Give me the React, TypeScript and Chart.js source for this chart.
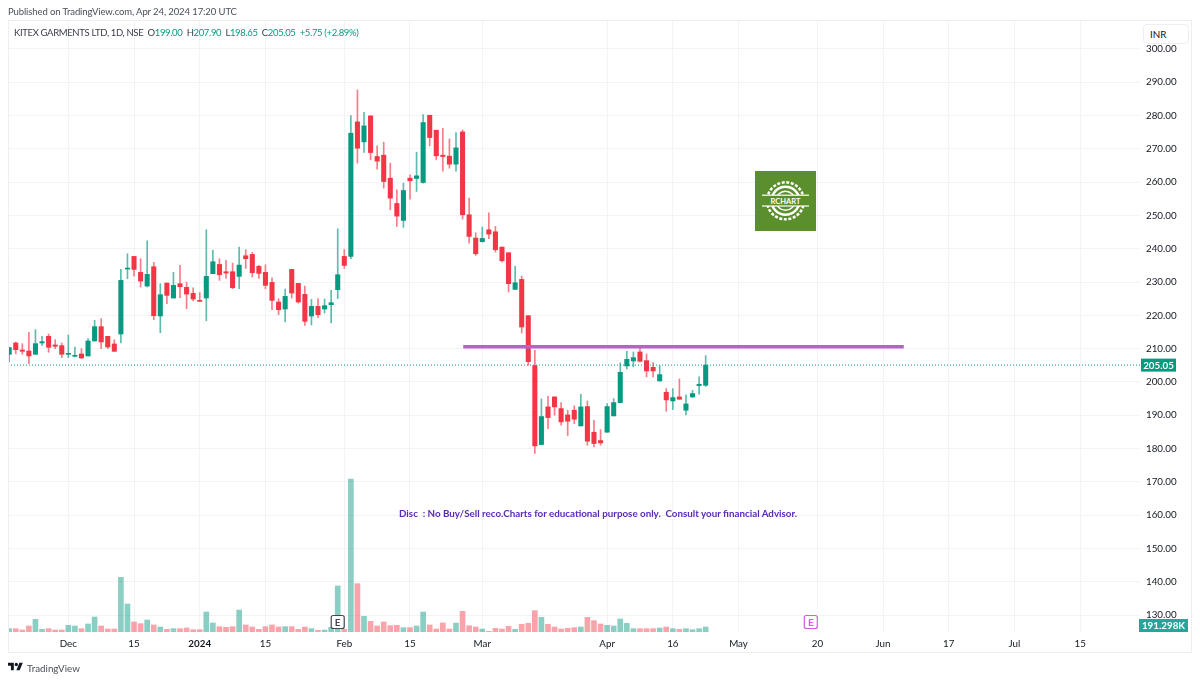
import { useEffect, useRef } from 'react'
import { Chart, registerables } from 'chart.js'

Chart.register(...registerables)

const opens = [
  208.3, 211.7, 209.6, 209.3, 208.3, 211.7, 213.7, 211.1, 210.9, 208.3,
  207.7, 208.4, 207.8, 212.3, 216.6, 213.7, 211.4, 214.4, 233.9, 237.7,
  232.9, 228.8, 234.6, 219.8, 229.7, 225.2, 229.5, 228.4, 226.6, 224.5,
  225.2, 232.5, 235.3, 233.1, 233.1, 231.7, 237.9, 238.3, 234.7, 232.9,
  229.9, 224, 221.9, 233.8, 229.6, 226.3, 219.8, 222.7, 221.9, 223.2,
  227.7, 237.7, 237.7, 278.1, 272.1, 279.9, 267.7, 268.1, 261.2, 253.6,
  248.5, 261.2, 261.1, 259.9, 280.1, 275.6, 268.1, 267.8, 265.4, 275.1,
  250.2, 243.2, 242.1, 245.7, 245.1, 240.5, 238.8, 227.8, 230.8, 219.9,
  204.9, 181.2, 192.5, 195.5, 192, 190.1, 191.5, 186.8, 192.6, 184.9,
  182.4, 184.9, 189.8, 193.8, 204.8, 206.3, 209, 206.4, 204.4, 200.3,
  196.9, 194.3, 195.5, 191.5, 195.5, 198.9, 199,
]
const closes = [
  210.3, 209.7, 209.2, 207.8, 211.5, 212.1, 210.4, 210.7, 208.3, 208.6,
  208, 207.2, 212.3, 216.6, 212, 210.5, 209.2, 230.5, 234.2, 233.8,
  230.3, 232.3, 219.9, 226.2, 226, 229, 228.6, 226.4, 224.9, 224.2,
  231.7, 236.1, 232.2, 232.7, 228.3, 235.1, 237, 232.8, 232.6, 229,
  224.5, 221.7, 225.7, 226.7, 224, 218.2, 222.7, 220.2, 222.9, 223.8,
  232.2, 235, 274.7, 270.2, 276.9, 268.9, 266.3, 260.2, 255.2, 249.8,
  257.5, 260.4, 261.9, 277.9, 273.4, 267.9, 267.7, 265.4, 270.3, 250.2,
  243.7, 238.5, 243.1, 244.4, 239.7, 236.4, 229.5, 229.8, 216.5, 206.1,
  180.8, 189.6, 189.3, 192.5, 188, 188.2, 188.8, 192.5, 182.2, 181.5,
  181.7, 192.6, 193.8, 202.9, 206.8, 207.3, 206.2, 203.3, 203.3, 202.2,
  194.6, 195.3, 194.8, 193.4, 196.5, 199.3, 205.05,
]
const highs = [
  210.5, 212, 211.5, 214.9, 215.7, 213.7, 214.4, 212.7, 211.7, 214.1,
  210.5, 210, 213, 218.5, 219, 213.7, 212.7, 233.8, 238.5, 237.7,
  237, 242.4, 235.9, 229.5, 229.7, 232.9, 235, 230, 228.3, 226.9,
  245.7, 239.5, 237, 236.5, 235.7, 240.5, 239.7, 238.9, 235, 235.2,
  231.3, 225, 227.9, 233.8, 229.6, 228.8, 224.8, 225, 224.9, 227.5,
  246, 239.8, 280, 287.7, 281, 279.9, 270.9, 272, 265.7, 257.7,
  259.7, 262.2, 269, 280.3, 280.1, 275.6, 276.2, 273, 274.9, 275.7,
  255.2, 244.8, 246.5, 250.8, 246.7, 240.5, 238.8, 234.7, 231.8, 219.9,
  209.5, 194.9, 195.7, 195.5, 193.8, 191.5, 192.8, 196.3, 194.3, 188.5,
  185.7, 193.5, 195, 205.7, 209.2, 209, 210.7, 208.4, 205.8, 204.9,
  198, 198, 200.9, 196.1, 197.5, 201.5, 207.9,
]
const lows = [
  206, 208.5, 208.3, 205.5, 208.3, 211, 208.9, 210, 207.3, 207.3,
  207.5, 207, 207.8, 212.3, 210, 210, 209.2, 211.7, 231, 231.8,
  228.5, 228.5, 218.7, 214.8, 223.5, 225.2, 225.3, 222, 224.3, 224.2,
  218.4, 232.5, 230.5, 231.1, 228, 228, 234.1, 231.5, 231.1, 228,
  221.7, 220.2, 218, 225.2, 223.7, 217, 217.1, 219.3, 220.7, 217.7,
  225, 234.1, 237, 265.7, 268.9, 266.7, 263.9, 258.2, 251.7, 246.7,
  246.4, 254.9, 257.2, 259.7, 270.9, 266.7, 263.3, 264.2, 263.3, 248.9,
  241.7, 238, 242.1, 243, 239, 236, 227, 227.8, 214.7, 205,
  178.5, 181.2, 186, 190, 187, 183.9, 187.5, 186.8, 181, 180.5,
  181, 184.9, 189.8, 193.8, 203.9, 204.5, 206, 201.5, 201.5, 200.3,
  191.2, 191.7, 194.8, 190.1, 195.3, 196.3, 198.65,
]
// volume in thousands
const volumes = [
  128, 128, 77, 230, 485, 102, 128, 77, 77, 255,
  230, 128, 306, 574, 230, 115, 115, 2091, 1071, 383,
  319, 459, 268, 191, 102, 128, 128, 153, 89, 89,
  765, 344, 204, 179, 204, 842, 268, 191, 102, 204,
  268, 191, 204, 204, 102, 191, 128, 64, 77, 179,
  1760, 102, 5852, 1849, 599, 408, 230, 383, 242, 255,
  166, 166, 230, 765, 268, 115, 344, 115, 344, 791,
  242, 191, 115, 26, 140, 115, 217, 102, 293, 332,
  816, 561, 293, 191, 115, 140, 166, 191, 561, 434,
  306, 255, 230, 497, 332, 128, 128, 128, 128, 153,
  191, 128, 102, 128, 89, 128, 191.298,
]

const xTickIndexes = [9, 19, 29, 39, 51, 61, 72, 91, 101, 111, 123, 133, 143, 153, 163]
const xTickLabels = ['Dec', '15', '2024', '15', 'Feb', '15', 'Mar', 'Apr', '16', 'May', '20', 'Jun', '17', 'Jul', '15']
const priceTicks = [130, 140, 150, 160, 170, 180, 190, 200, 210, 220, 230, 240, 250, 260, 270, 280, 290, 300]

const resistanceStart = 69.1
const resistanceEnd = 136.15
const resistanceLevel = 210.6
const lastPrice = 205.05
const lastVolumeLabel = '191.298K'
const earningsBars = [50, 122]

const xMin = -0.18
const xMax = 172.1

const UI_FONT = 'Lato, sans-serif'
const UI_SIZE = 9.8
const UP = '#089981'
const DOWN = '#f23645'
const TEXT = '#131722'
const GRID = '#f2f3f7'

const isUp = (i: number) => closes[i] >= opens[i]

// price / volume tags on the axis and the E markers
const overlayPlugin = {
  id: 'overlay',
  afterDraw(chart: any) {
    const { ctx, scales, chartArea } = chart
    const tag = (text: string, y: number, color: string, left: number, right: number) => {
      ctx.fillStyle = color
      ctx.fillRect(left, y - 6.5, right - left, 13)
      ctx.fillStyle = '#fff'
      ctx.font = `bold ${UI_SIZE}px ${UI_FONT}`
      ctx.textAlign = 'center'
      ctx.textBaseline = 'middle'
      ctx.fillText(text, (left + right) / 2, y + 0.5)
    }
    tag(lastPrice.toFixed(2), scales.y.getPixelForValue(lastPrice), UP, chartArea.right + 1, 1176)
    tag(lastVolumeLabel, 625.5, '#26a69a', chartArea.right - 1, 1188)

    earningsBars.forEach((bar, i) => {
      const cx = scales.x.getPixelForValue(bar)
      const color = i === 0 ? '#434651' : '#d05ce3'
      ctx.fillStyle = '#fff'
      ctx.strokeStyle = color
      ctx.lineWidth = 1.2
      ctx.beginPath()
      ctx.roundRect(cx - 6.5, 615.5, 13, 13, 2)
      ctx.fill()
      ctx.stroke()
      ctx.fillStyle = color
      ctx.font = `bold 10px ${UI_FONT}`
      ctx.textAlign = 'center'
      ctx.textBaseline = 'middle'
      ctx.fillText('E', cx, 622.5)
    })
  },
}

function CandleChart() {
  const canvasRef = useRef<HTMLCanvasElement>(null)

  useEffect(() => {
    if (!canvasRef.current) return

    const index = opens.map((_, i) => i)
    const chart = new Chart(canvasRef.current, {
      type: 'bar',
      data: {
        datasets: [
          {
            type: 'line',
            data: [{ x: resistanceStart, y: resistanceLevel }, { x: resistanceEnd, y: resistanceLevel }],
            borderColor: '#b563c9',
            borderWidth: 3.5,
            pointRadius: 0,
            order: 1,
          },
          {
            type: 'line',
            data: [{ x: xMin, y: lastPrice }, { x: xMax, y: lastPrice }],
            borderColor: UP,
            borderWidth: 1,
            borderDash: [1, 2],
            pointRadius: 0,
            order: 2,
          },
          {
            data: index.map((i) => ({ x: i, y: [opens[i], closes[i]] })),
            backgroundColor: index.map((i) => (isUp(i) ? UP : DOWN)),
            barThickness: 4.4,
            grouped: false,
            order: 3,
          },
          {
            data: index.map((i) => ({ x: i, y: [lows[i], highs[i]] })),
            backgroundColor: index.map((i) => (isUp(i) ? '#5dbcac' : '#f77c87')),
            barThickness: 1,
            grouped: false,
            order: 4,
          },
          {
            data: index.map((i) => ({ x: i, y: volumes[i] })),
            backgroundColor: index.map((i) => (isUp(i) ? 'rgba(8,153,129,0.47)' : 'rgba(242,54,69,0.45)')),
            barThickness: 5,
            grouped: false,
            yAxisID: 'yVol',
            order: 5,
          },
        ],
      } as any,
      options: {
        responsive: false,
        animation: false,
        devicePixelRatio: 1,
        layout: { padding: { left: 8, right: 8, top: 21, bottom: 28 } },
        plugins: { legend: { display: false }, tooltip: { enabled: false } },
        scales: {
          x: {
            type: 'linear',
            min: xMin,
            max: xMax,
            offset: false,
            grid: { color: GRID, offset: false, drawTicks: false },
            border: { display: false },
            afterBuildTicks: (scale: any) => {
              scale.ticks = xTickIndexes.map((value) => ({ value }))
            },
            afterFit: (scale: any) => {
              scale.height = 21
            },
            ticks: {
              autoSkip: false,
              maxRotation: 0,
              padding: 6,
              color: TEXT,
              font: (ctx: any) => ({
                family: UI_FONT,
                size: UI_SIZE,
                weight: ctx.tick && ctx.tick.value === 29 ? 'bold' : 'normal',
              }),
              callback: (value: any) => xTickLabels[xTickIndexes.indexOf(value)],
            },
          },
          y: {
            position: 'right',
            min: 124.9,
            max: 308.4,
            grid: { color: GRID, drawTicks: false },
            border: { display: false },
            afterBuildTicks: (scale: any) => {
              scale.ticks = priceTicks.map((value) => ({ value }))
            },
            afterFit: (scale: any) => {
              scale.width = 52
            },
            ticks: {
              autoSkip: false,
              padding: 6,
              color: TEXT,
              font: { family: UI_FONT, size: UI_SIZE },
              callback: (value: any) => Number(value).toFixed(2),
            },
          },
          yVol: {
            display: false,
            min: 0,
            max: 23371,
          },
        },
      } as any,
      plugins: [overlayPlugin],
    })

    return () => chart.destroy()
  }, [])

  return <canvas ref={canvasRef} width={1200} height={681} style={{ display: 'block' }} />
}

function Badge() {
  return (
    <svg width={61} height={60} viewBox="0 0 61 60" style={{ position: 'absolute', left: 755, top: 171 }}>
      <rect width={61} height={60} fill="#5a8f2b" />
      <circle cx={30.5} cy={29.8} r={18.5} fill="none" stroke="#fff" strokeWidth={2.5} strokeDasharray="3 1.6" />
      <circle cx={30.5} cy={29.8} r={14} fill="none" stroke="#fff" strokeWidth={2.5} />
      <circle cx={30.5} cy={29.8} r={9.5} fill="none" stroke="#fff" strokeWidth={1.5} />
      <rect x={7} y={24} width={47} height={11} fill="#5a8f2b" />
      <rect x={7} y={23.6} width={47} height={1.2} fill="#fff" />
      <rect x={7} y={34.4} width={47} height={1.2} fill="#fff" />
      <text x={30.5} y={32.6} textAnchor="middle" fill="#fff" fontSize={7.5} fontWeight="bold" fontFamily={UI_FONT}>
        RCHART
      </text>
    </svg>
  )
}

const abs = (left: number, top: number): React.CSSProperties => ({
  position: 'absolute',
  left,
  top,
  whiteSpace: 'pre',
  fontFamily: UI_FONT,
  fontSize: UI_SIZE,
  lineHeight: '14px',
  color: TEXT,
})

export default function App() {
  const num = { color: UP }
  return (
    <div style={{ position: 'fixed', left: 0, top: 0, width: 1200, height: 681, background: '#fff', overflow: 'hidden' }}>
      <CandleChart />
      <div style={{ position: 'absolute', left: 8, top: 20, width: 1184, height: 633, boxSizing: 'border-box', border: '1px solid #eceef3' }} />
      <div style={{ ...abs(8, 5), color: '#4a4e59', fontSize: 9.5, letterSpacing: -0.1 }}>
        Published on TradingView.com, Apr 24, 2024 17:20 UTC
      </div>
      <div style={{ ...abs(14, 26), color: '#3a3e4a', fontSize: 9.5, letterSpacing: -0.35 }}>
        KITEX GARMENTS LTD, 1D, NSE{'  '}O<span style={num}>199.00</span>{'  '}H<span style={num}>207.90</span>{'  '}L
        <span style={num}>198.65</span>{'  '}C<span style={num}>205.05</span>{'  '}
        <span style={num}>+5.75 (+2.89%)</span>
      </div>
      <div
        style={{
          ...abs(1143, 24),
          width: 46,
          height: 20,
          boxSizing: 'border-box',
          background: '#fff',
          border: '1px solid #eceef3',
          borderRadius: 4,
          padding: '2px 0 0 6px',
        }}
      >
        INR
      </div>
      <div style={{ ...abs(399, 506), color: '#5b2bb8', fontSize: 9.8, fontWeight: 'bold' }}>
        Disc  : No Buy/Sell reco.Charts for educational purpose only.  Consult your financial Advisor.
      </div>
      <Badge />
      <svg width={15} height={12} viewBox="0 0 36 28" style={{ position: 'absolute', left: 8, top: 661 }}>
        <path d="M14 22H7V11H0V4h14v18zM28 22h-8l7.5-18h8L28 22z" fill={TEXT} />
        <circle cx={20} cy={8} r={4} fill={TEXT} />
      </svg>
      <div style={{ ...abs(27, 661), color: '#4a4e59' }}>TradingView</div>
    </div>
  )
}
